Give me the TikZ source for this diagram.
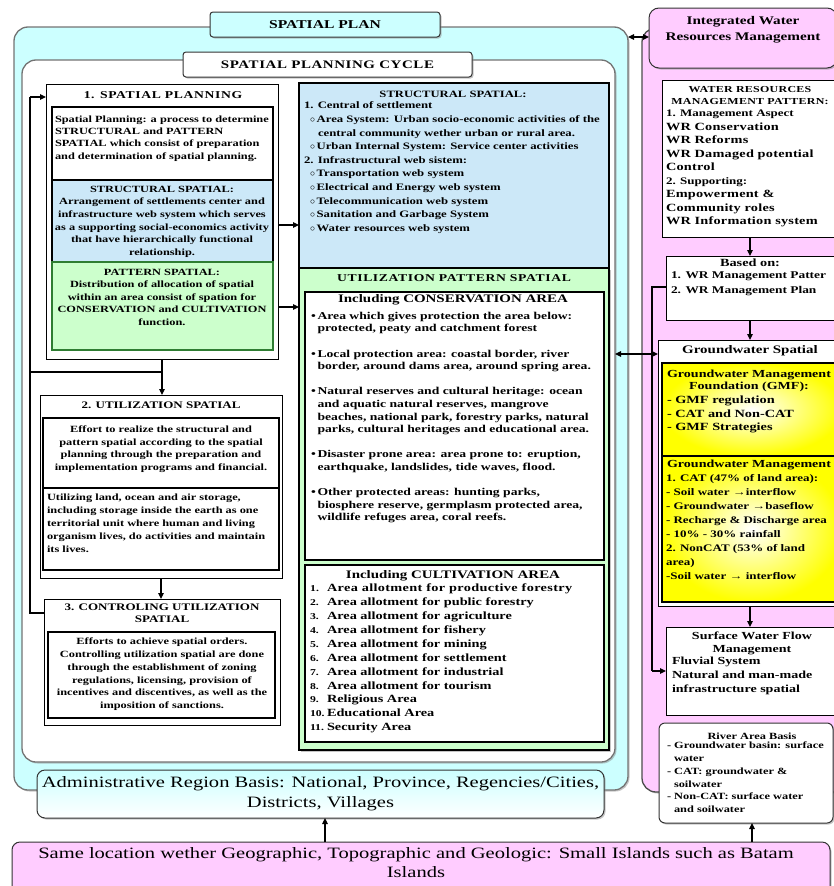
\documentclass[tikz,border=0pt]{standalone}
\usepackage{fontspec}
\setmainfont{Liberation Serif}[FakeStretch=1.3]
\usetikzlibrary{arrows.meta,shadows}
\definecolor{cyanbg}{HTML}{CCFFFF}
\definecolor{bluebg}{HTML}{CCE8F8}
\definecolor{greenbg}{HTML}{CCFFCC}
\definecolor{pinkbg}{HTML}{FFCCFF}
\definecolor{darkgreen}{HTML}{2E7D32}
\newcommand\ftx[2]{\fontsize{#1}{#2}\selectfont\bfseries}
\begin{document}
\begin{tikzpicture}[x=1pt,y=-1pt,
 box/.style={draw=black, line width=1pt, fill=white, inner sep=0pt, outer sep=0pt, anchor=north west},
 panel/.style={draw=black!55, line width=1.3pt, inner sep=0pt, outer sep=0pt, anchor=north west, rounded corners=14pt, drop shadow={shadow xshift=1.5pt, shadow yshift=-1.5pt, fill=black!45}},
 tbox/.style={draw=black!80, line width=1pt, rounded corners=3pt, inner sep=0pt, outer sep=0pt, anchor=north west, drop shadow={shadow xshift=1.5pt, shadow yshift=-1.5pt, fill=black!45}},
 txt/.style={inner sep=0pt, outer sep=0pt, text=black},
 arr/.style={line width=1.1pt, -{Triangle[length=6pt,width=5.5pt]}},
 darr/.style={line width=1.1pt, {Triangle[length=6pt,width=5.5pt]}-{Triangle[length=6pt,width=5.5pt]}},
 ln/.style={line width=1.1pt}]
\useasboundingbox (0,0) rectangle (834,886);
\clip (0,0) rectangle (834,886);

% ---------------- left: spatial plan ----------------
\node[panel, fill=cyanbg, minimum width=614pt, minimum height=763pt] (plan) at (14,27) {};
\node[tbox, fill=cyanbg, minimum width=230pt, minimum height=25pt] (planT) at (210,12) {\ftx{12}{14}SPATIAL PLAN};
\node[panel, fill=white, minimum width=593pt, minimum height=702pt] (cycle) at (22,60) {};
\node[tbox, fill=white, minimum width=289pt, minimum height=25pt] (cycleT) at (183,52) {\ftx{11.5}{14}\addfontfeature{LetterSpace=5}SPATIAL PLANNING CYCLE};

% box 1
\node[box, minimum width=232pt, minimum height=275pt] (b1) at (46,84) {};
\node[txt, font=\ftx{10.5}{12}] (b1t) at (163,95) {\addfontfeature{LetterSpace=6}1. SPATIAL PLANNING};
\node[box, line width=1.4pt, minimum width=221pt, minimum height=73pt] (b1a) at (52,107) {};
\node[box, fill=bluebg, line width=1.4pt, minimum width=221pt, minimum height=82pt] (b1b) at (52,180) {};
\node[box, fill=greenbg, draw=darkgreen, line width=1.4pt, minimum width=221pt, minimum height=88pt] (b1c) at (52,262) {};
\node[txt, anchor=north west, align=left, font=\ftx{9.5}{12.2}] (b1at) at (55,116) {Spatial Planning: a process to determine\\STRUCTURAL and PATTERN\\SPATIAL which consist of preparation\\and determination of spatial planning.};
\node[txt, anchor=north, align=center, font=\ftx{9.5}{12.6}] (b1bt) at (162,186) {STRUCTURAL SPATIAL:\\Arrangement of settlements center and\\infrastructure web system which serves\\as a supporting social-economics activity\\that have hierarchically functional\\relationship.};
\node[txt, anchor=north, align=center, font=\ftx{9.5}{12.5}] (b1ct) at (162,269) {PATTERN SPATIAL:\\Distribution of allocation of spatial\\within an area consist of spation for\\CONSERVATION and CULTIVATION\\function.};

% box 2
\node[box, minimum width=242pt, minimum height=183pt] (b2) at (40,395) {};
\node[txt, font=\ftx{10}{12}] (b2t) at (161,405) {2. UTILIZATION SPATIAL};
\node[box, line width=1.4pt, minimum width=236pt, minimum height=70pt] (b2a) at (43,418) {};
\node[box, line width=1.4pt, minimum width=236pt, minimum height=82pt] (b2b) at (43,488) {};
\node[txt, anchor=north, align=center, font=\ftx{9.5}{12.5}] (b2at) at (161,426) {Effort to realize the structural and\\pattern spatial according to the spatial\\planning through the preparation and\\implementation programs and financial.};
\node[txt, anchor=north west, align=left, font=\ftx{9.5}{13}] (b2bt) at (47,494) {Utilizing land, ocean and air storage,\\including storage inside the earth as one\\territorial unit where human and living\\organism lives, do activities and maintain\\its lives.};

% box 3
\node[box, minimum width=236pt, minimum height=126pt] (b3) at (44,599) {};
\node[txt, anchor=north, align=center, font=\ftx{10}{11.5}] (b3t) at (162,604) {3. CONTROLING UTILIZATION\\SPATIAL};
\node[box, line width=1.4pt, minimum width=227pt, minimum height=86pt] (b3a) at (48,632) {};
\node[txt, anchor=north, align=center, font=\ftx{9.5}{12.8}] (b3at) at (162,638) {Efforts to achieve spatial orders.\\Controlling utilization spatial are done\\through the establishment of zoning\\regulations, licensing, provision of\\incentives and discentives, as well as the\\imposition of sanctions.};

% structural spatial (right)
\node[box, fill=bluebg, line width=1.2pt, minimum width=310pt, minimum height=185pt] (ss) at (299,83) {};
\node[txt, font=\ftx{9.7}{12}] (sst) at (453,94) {STRUCTURAL SPATIAL:};
\node[txt, anchor=north west, align=left, font=\ftx{9.8}{13.6}] (ssb) at (304,102) {1. Central of settlement\\
\hspace*{6pt}$\circ$\,Area System: Urban socio-economic activities of the\\
\hspace*{14pt}central community wether urban or rural area.\\
\hspace*{6pt}$\circ$\,Urban Internal System: Service center activities\\
2. Infrastructural web sistem:\\
\hspace*{6pt}$\circ$\,Transportation web system\\
\hspace*{6pt}$\circ$\,Electrical and Energy web system\\
\hspace*{6pt}$\circ$\,Telecommunication web system\\
\hspace*{6pt}$\circ$\,Sanitation and Garbage System\\
\hspace*{6pt}$\circ$\,Water resources web system};

% utilization pattern spatial
\node[box, fill=greenbg, line width=1.2pt, minimum width=310pt, minimum height=482pt, drop shadow={shadow xshift=1.5pt, shadow yshift=-1.5pt, fill=black!45}] (ups) at (299,268) {};
\node[txt, font=\ftx{10.5}{12}] (upst) at (454,278) {\addfontfeature{LetterSpace=6}UTILIZATION PATTERN SPATIAL};
\node[box, line width=1.5pt, minimum width=299pt, minimum height=268pt] (cons) at (305,292) {};
\node[txt, font=\ftx{11.5}{12}] (const) at (453,300) {Including CONSERVATION AREA};
\node[txt, anchor=north west, align=left, font=\ftx{10.5}{12.6}] (consb) at (311,312) {%
\textbullet\,Area which gives protection the area below:\\
\hphantom{\textbullet\,}protected, peaty and catchment forest\\[12.6pt]
\textbullet\,Local protection area: coastal border, river\\
\hphantom{\textbullet\,}border, around dams area, around spring area.\\[12.6pt]
\textbullet\,Natural reserves and cultural heritage: ocean\\
\hphantom{\textbullet\,}and aquatic natural reserves, mangrove\\
\hphantom{\textbullet\,}beaches, national park, forestry parks, natural\\
\hphantom{\textbullet\,}parks, cultural heritages and educational area.\\[12.6pt]
\textbullet\,Disaster prone area: area prone to: eruption,\\
\hphantom{\textbullet\,}earthquake, landslides, tide waves, flood.\\[12.6pt]
\textbullet\,Other protected areas: hunting parks,\\
\hphantom{\textbullet\,}biosphere reserve, germplasm protected area,\\
\hphantom{\textbullet\,}wildlife refuges area, coral reefs.};
\node[box, line width=1.5pt, minimum width=299pt, minimum height=177pt] (cult) at (305,565) {};
\node[txt, font=\ftx{11.5}{12}] (cultt) at (453,576) {Including CULTIVATION AREA};
\node[txt, anchor=north west, align=left, font=\ftx{11}{13.9}] (cultb) at (310,584) {\addfontfeature{LetterSpace=3}%
\makebox[17pt][l]{\small 1.}Area allotment for productive forestry\\
\makebox[17pt][l]{\small 2.}Area allotment for public forestry\\
\makebox[17pt][l]{\small 3.}Area allotment for agriculture\\
\makebox[17pt][l]{\small 4.}Area allotment for fishery\\
\makebox[17pt][l]{\small 5.}Area allotment for mining\\
\makebox[17pt][l]{\small 6.}Area allotment for settlement\\
\makebox[17pt][l]{\small 7.}Area allotment for industrial\\
\makebox[17pt][l]{\small 8.}Area allotment for tourism\\
\makebox[17pt][l]{\small 9.}Religious Area\\
\makebox[17pt][l]{\small 10.}Educational Area\\
\makebox[17pt][l]{\small 11.}Security Area};

% ---------------- right: water resources ----------------
\node[panel, fill=pinkbg, draw=black!70, minimum width=220pt, minimum height=764pt] (wpanel) at (642,28) {};
\node[tbox, fill=pinkbg, rounded corners=10pt, minimum width=188pt, minimum height=60pt] (iwrm) at (649,8) {};
\node[txt, align=center, font=\ftx{11.7}{16}] (iwrmt) at (743,30) {Integrated Water\\Resources Management};

\node[box, minimum width=176pt, minimum height=157pt] (wr) at (662,80) {};
\node[txt, align=center, font=\ftx{9.2}{12}] (wrT) at (750,96) {\addfontfeature{LetterSpace=3}WATER RESOURCES\\\addfontfeature{LetterSpace=3}MANAGEMENT PATTERN:};
\node[txt, anchor=north west, align=left, font=\ftx{11}{13.5}] (wrB) at (666,110) {{\fontsize{10}{13.5}\selectfont 1. Management Aspect}\\\addfontfeature{LetterSpace=2}WR Conservation\\\addfontfeature{LetterSpace=2}WR Reforms\\\addfontfeature{LetterSpace=2}WR Damaged potential\\\addfontfeature{LetterSpace=2}Control\\{\fontsize{10}{13.5}\selectfont 2. Supporting:}\\\addfontfeature{LetterSpace=2}Empowerment \&\\\addfontfeature{LetterSpace=2}Community roles\\\addfontfeature{LetterSpace=2}WR Information system};

\node[box, minimum width=168pt, minimum height=64pt] (based) at (666,256) {};
\node[txt, font=\ftx{11}{12}] (basedT) at (750,263) {Based on:};
\node[txt, anchor=north west, align=left, font=\ftx{10.3}{15}] (basedB) at (671,272) {1. WR Management Patter\\2. WR Management Plan};

\node[box, minimum width=184pt, minimum height=266pt] (gw) at (658,340) {};
\node[txt, font=\ftx{11.5}{12}] (gwT) at (750,351) {Groundwater Spatial};
\node[box, line width=1.3pt, inner color=white, outer color=yellow, minimum width=180pt, minimum height=93pt] (gwa) at (662,363) {};
\node[box, line width=1.3pt, inner color=white, outer color=yellow, minimum width=180pt, minimum height=146pt] (gwb) at (662,456) {};
\node[txt, align=center, font=\ftx{10.8}{12.5}] (gwaT) at (749,381) {Groundwater Management\\Foundation (GMF):};
\node[txt, anchor=north west, align=left, font=\ftx{11}{13.5}] (gwaB) at (667,396) {- GMF regulation\\- CAT and Non-CAT\\- GMF Strategies};
\node[txt, font=\ftx{10.8}{12}] (gwbT) at (749,465) {Groundwater Management};
\node[txt, anchor=north west, align=left, font=\ftx{10}{14}] (gwbB) at (666,474) {1. CAT (47\% of land area):\\- Soil water →interflow\\- Groundwater →baseflow\\- Recharge \& Discharge area\\- 10\% - 30\% rainfall\\2. NonCAT (53\% of land\\area)\\-Soil water → interflow};

\node[box, minimum width=168pt, minimum height=88pt] (sw) at (666,627) {};
\node[txt, align=center, font=\ftx{10.8}{13}] (swT) at (752,643) {Surface Water Flow\\Management};
\node[txt, anchor=north west, align=left, font=\ftx{10.8}{14}] (swB) at (672,657) {Fluvial System\\Natural and man-made\\infrastructure spatial};

\node[tbox, fill=white, rounded corners=6pt, minimum width=174pt, minimum height=100pt] (river) at (659,723) {};
\node[txt, font=\ftx{9.5}{12}] (rvT) at (752,736) {River Area Basis};
\node[txt, anchor=north west, align=left, font=\ftx{9.5}{12.8}] (rvB) at (667,742) {- Groundwater basin: surface\\\hspace*{7pt}water\\- CAT: groundwater \&\\\hspace*{7pt}soilwater\\- Non-CAT: surface water\\\hspace*{7pt}and soilwater};

% ---------------- bottom ----------------
\node[tbox, rounded corners=8pt, top color=cyanbg, bottom color=white, minimum width=567pt, minimum height=48pt, align=center, font=\fontsize{15.8}{20}\selectfont] (admin) at (37,770) {Administrative Region Basis: National, Province, Regencies/Cities,\\Districts, Villages};
\node[tbox, rounded corners=8pt, fill=pinkbg, minimum width=818pt, minimum height=60pt] (base) at (12,842) {};
\node[txt, anchor=north, align=center, font=\fontsize{15.8}{19}\selectfont] (baseT) at (416,848) {Same location wether Geographic, Topographic and Geologic: Small Islands such as Batam\\Islands};

% ---------------- connectors ----------------
\coordinate (L1) at (30,97);
\coordinate (L2) at (30,613);
\coordinate (J1) at (162,372);
\draw[arr] (b1.south) -- (b1.south |- b2.north);
\draw[arr] (b2.south) -- (b2.south |- b3.north);
\draw[ln] (b3.west |- L2) -- (L2) -- (L1);
\draw[arr] (L1) -- (L1 -| b1.west);
\draw[ln] (L2 |- J1) -- (J1);
\draw[arr] (b1.east |- 0,225) -- (ss.west |- 0,225);
\draw[arr] (b1.east |- 0,307) -- (ups.west |- 0,307);

\coordinate (R1) at (652,287);
\coordinate (R2) at (652,671);
\draw[arr] (wr.south) -- (wr.south |- based.north);
\draw[arr] (based.south) -- (based.south |- gw.north);
\draw[arr] (gw.south) -- (gw.south |- sw.north);
\draw[ln] (based.west |- R1) -- (R1) -- (R2);
\draw[arr] (R2) -- (R2 -| sw.west);
\draw[darr] (plan.east |- 0,37) -- (iwrm.west |- 0,37);
\draw[darr] (cycle.east |- 0,354) -- (gw.west |- 0,354);
\draw[arr] (base.north -| 325,0) -- (admin.south -| 325,0);
\draw[arr] (base.north -| 752,0) -- (river.south -| 752,0);
\end{tikzpicture}
\end{document}
